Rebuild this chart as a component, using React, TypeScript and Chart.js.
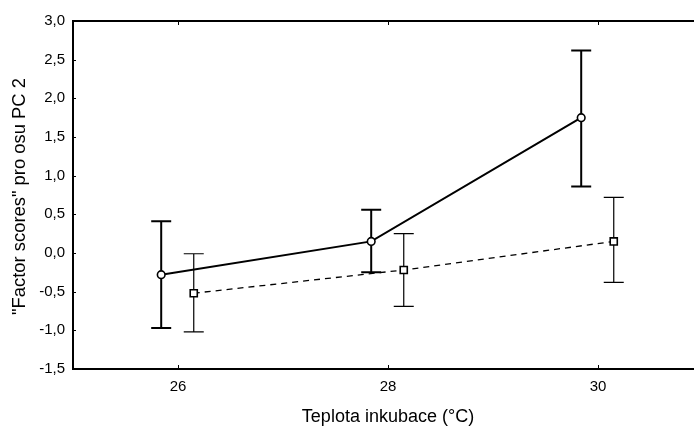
import React, { useEffect, useRef } from "react";
import { Chart, registerables } from "chart.js";

Chart.register(...registerables);

// Incubation temperatures shown on the x axis
const xTickValues = [26, 28, 30];
const yTickValues = [-1.5, -1.0, -0.5, 0.0, 0.5, 1.0, 1.5, 2.0, 2.5, 3.0];

// Group A (circles, solid line) – drawn a little left of each temperature
const groupAX = [25.84, 27.84, 29.84];
const groupAMean = [-0.28, 0.15, 1.75];
const groupALow = [-0.97, -0.25, 0.86];
const groupAHigh = [0.41, 0.56, 2.62];

// Group B (squares, dashed line) – drawn a little right of each temperature
const groupBX = [26.15, 28.15, 30.15];
const groupBMean = [-0.52, -0.22, 0.15];
const groupBLow = [-1.02, -0.69, -0.38];
const groupBHigh = [-0.01, 0.25, 0.72];

const FONT = '"Liberation Sans", Arial, Helvetica, sans-serif';
const X_TITLE = "Teplota inkubace (°C)";
const Y_TITLE = '"Factor scores" pro osu PC 2';

const fmt = (v: number) => v.toFixed(1).replace(".", ",");

// Vertical whiskers with caps, drawn beneath the lines and markers
const errorBarPlugin = {
  id: "errorBars",
  beforeDatasetsDraw(chart: any) {
    const { ctx } = chart;
    const xs = chart.scales.x;
    const ys = chart.scales.y;
    chart.data.datasets.forEach((ds: any) => {
      const eb = ds.errorBars;
      if (!eb) return;
      ctx.save();
      ctx.strokeStyle = "#000";
      ctx.lineWidth = eb.lineWidth;
      ctx.setLineDash([]);
      ds.data.forEach((p: any, i: number) => {
        const x = xs.getPixelForValue(p.x);
        const yl = ys.getPixelForValue(eb.low[i]);
        const yh = ys.getPixelForValue(eb.high[i]);
        const half = eb.capWidth / 2;
        ctx.beginPath();
        ctx.moveTo(x, yl);
        ctx.lineTo(x, yh);
        ctx.moveTo(x - half, yl);
        ctx.lineTo(x + half, yl);
        ctx.moveTo(x - half, yh);
        ctx.lineTo(x + half, yh);
        ctx.stroke();
      });
      ctx.restore();
    });
  },
};

// Plot frame, inward tick marks and axis titles
const framePlugin = {
  id: "frame",
  afterDraw(chart: any) {
    const { ctx, chartArea } = chart;
    const { left, right, top, bottom } = chartArea;
    const xs = chart.scales.x;
    const ys = chart.scales.y;
    ctx.save();
    ctx.strokeStyle = "#000";
    ctx.lineWidth = 2;
    ctx.strokeRect(left, top, right - left, bottom - top);

    ctx.lineWidth = 1;
    ctx.beginPath();
    xs.ticks.forEach((t: any) => {
      const x = Math.round(xs.getPixelForValue(t.value)) + 0.5;
      ctx.moveTo(x, bottom);
      ctx.lineTo(x, bottom - 4);
      ctx.moveTo(x, top);
      ctx.lineTo(x, top + 4);
    });
    ys.ticks.forEach((t: any) => {
      const y = Math.round(ys.getPixelForValue(t.value)) + 0.5;
      ctx.moveTo(left, y);
      ctx.lineTo(left + 3, y);
    });
    ctx.stroke();

    ctx.fillStyle = "#000";
    ctx.textAlign = "center";
    ctx.textBaseline = "middle";
    ctx.font = `18px ${FONT}`;
    ctx.fillText(X_TITLE, (left + right) / 2, 417);

    ctx.font = `18.4px ${FONT}`;
    ctx.translate(19.5, (top + bottom) / 2 + 1.5);
    ctx.rotate(-Math.PI / 2);
    ctx.fillText(Y_TITLE, 0, 0);
    ctx.restore();
  },
};

export default function App() {
  const canvasRef = useRef<HTMLCanvasElement | null>(null);

  useEffect(() => {
    const canvas = canvasRef.current;
    if (!canvas) return;

    const chart = new Chart(canvas, {
      type: "line",
      data: {
        datasets: [
          {
            label: "A",
            data: groupAX.map((x, i) => ({ x, y: groupAMean[i] })),
            borderColor: "#000",
            borderWidth: 2,
            pointStyle: "circle",
            pointRadius: 3.8,
            pointBorderWidth: 1.6,
            pointBackgroundColor: "#fff",
            pointBorderColor: "#000",
            fill: false,
            tension: 0,
            errorBars: { low: groupALow, high: groupAHigh, lineWidth: 2, capWidth: 20 },
          } as any,
          {
            label: "B",
            data: groupBX.map((x, i) => ({ x, y: groupBMean[i] })),
            borderColor: "#000",
            borderWidth: 1.3,
            borderDash: [6, 5],
            pointStyle: "rect",
            pointRadius: 5,
            pointBorderWidth: 1.6,
            pointBackgroundColor: "#fff",
            pointBorderColor: "#000",
            fill: false,
            tension: 0,
            errorBars: { low: groupBLow, high: groupBHigh, lineWidth: 1.2, capWidth: 20 },
          } as any,
        ],
      },
      options: {
        animation: false,
        responsive: false,
        devicePixelRatio: 1,
        layout: { padding: { top: 21, right: 11, left: 0, bottom: 0 } },
        plugins: {
          legend: { display: false },
          tooltip: { enabled: false },
          title: { display: false },
        },
        scales: {
          x: {
            type: "linear",
            min: 25,
            max: 31,
            afterBuildTicks: (s: any) => {
              s.ticks = xTickValues.map((value) => ({ value }));
            },
            afterFit: (s: any) => {
              s.height = 58;
            },
            grid: { display: false, drawTicks: false },
            border: { display: false },
            ticks: {
              color: "#000",
              padding: 9,
              maxRotation: 0,
              font: { family: FONT, size: 15 },
              callback: (v: any) => String(v),
            },
          },
          y: {
            type: "linear",
            min: -1.5,
            max: 3,
            afterBuildTicks: (s: any) => {
              s.ticks = yTickValues.map((value) => ({ value }));
            },
            afterFit: (s: any) => {
              s.width = 73;
            },
            grid: { display: false, drawTicks: false },
            border: { display: false },
            ticks: {
              color: "#000",
              padding: 8,
              font: { family: FONT, size: 15 },
              callback: (v: any) => fmt(Number(v)),
            },
          },
        },
      },
      plugins: [errorBarPlugin, framePlugin],
    });

    return () => chart.destroy();
  }, []);

  return (
    <div
      style={{
        position: "fixed",
        left: 0,
        top: 0,
        width: 694,
        height: 427,
        overflow: "hidden",
        background: "#fff",
      }}
    >
      <canvas ref={canvasRef} width={714} height={427} style={{ display: "block" }} />
    </div>
  );
}
